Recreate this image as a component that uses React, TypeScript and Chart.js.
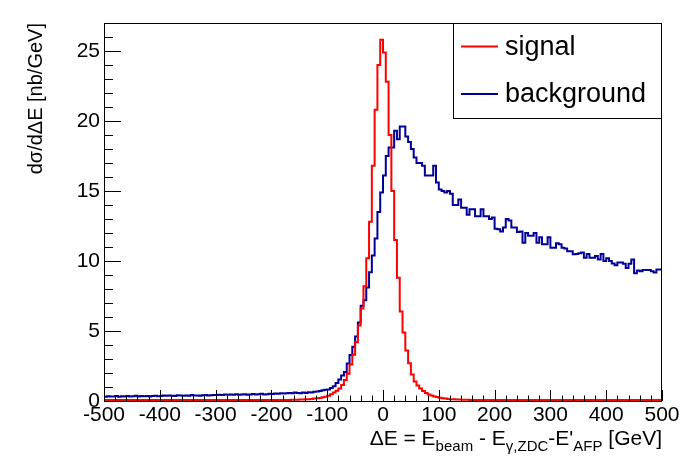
import { useEffect, useRef } from "react";
import { Chart, registerables } from "chart.js";

Chart.register(...registerables);

// histogram binning: 200 bins of 5 GeV from -500 to 500
const xLow = -500;
const binWidth = 5;

// signal, one value per bin (left to right), 10 bins per row
const signal = [
  0.07, 0.07, 0.07, 0.07, 0.07, 0.07, 0.07, 0.07, 0.07, 0.07,
  0.07, 0.07, 0.07, 0.07, 0.07, 0.07, 0.07, 0.07, 0.07, 0.07,
  0.07, 0.07, 0.07, 0.07, 0.07, 0.07, 0.07, 0.07, 0.07, 0.07,
  0.07, 0.07, 0.07, 0.07, 0.07, 0.07, 0.07, 0.07, 0.07, 0.07,
  0.07, 0.07, 0.07, 0.07, 0.07, 0.07, 0.07, 0.07, 0.07, 0.07,
  0.07, 0.07, 0.07, 0.07, 0.07, 0.07, 0.07, 0.07, 0.07, 0.08,
  0.08, 0.08, 0.08, 0.08, 0.08, 0.08, 0.08, 0.09, 0.09, 0.09,
  0.1, 0.11, 0.12, 0.13, 0.15, 0.17, 0.19, 0.22, 0.26, 0.31,
  0.38, 0.48, 0.6, 0.74, 0.9, 1.15, 1.5, 1.95, 2.6, 3.3,
  4.2, 5.4, 6.6, 8.2, 10.2, 12.8, 16.8, 20.8, 24.0, 25.8,
  24.9, 22.8, 19.0, 15.0, 11.5, 8.8, 6.4, 4.9, 3.6, 2.7,
  1.9, 1.4, 1.1, 0.9, 0.72, 0.58, 0.47, 0.39, 0.33, 0.28,
  0.24, 0.2, 0.17, 0.15, 0.13, 0.12, 0.11, 0.1, 0.09, 0.09,
  0.09, 0.08, 0.08, 0.08, 0.08, 0.08, 0.08, 0.08, 0.08, 0.08,
  0.08, 0.08, 0.08, 0.08, 0.08, 0.07, 0.07, 0.07, 0.07, 0.07,
  0.07, 0.07, 0.07, 0.07, 0.07, 0.07, 0.07, 0.07, 0.07, 0.07,
  0.07, 0.07, 0.07, 0.07, 0.07, 0.07, 0.07, 0.07, 0.07, 0.07,
  0.07, 0.07, 0.07, 0.07, 0.07, 0.07, 0.07, 0.07, 0.07, 0.07,
  0.07, 0.07, 0.07, 0.07, 0.07, 0.07, 0.07, 0.07, 0.07, 0.07,
  0.07, 0.07, 0.07, 0.07, 0.07, 0.07, 0.07, 0.07, 0.07, 0.07,
];

// background, same binning
const background = [
  0.31, 0.34, 0.32, 0.33, 0.36, 0.31, 0.34, 0.33, 0.35, 0.32,
  0.34, 0.37, 0.33, 0.35, 0.34, 0.36, 0.33, 0.35, 0.38, 0.34,
  0.36, 0.39, 0.37, 0.4, 0.38, 0.36, 0.41, 0.39, 0.38, 0.4,
  0.37, 0.42, 0.39, 0.4, 0.38, 0.41, 0.43, 0.39, 0.41, 0.42,
  0.43, 0.45, 0.42, 0.46, 0.44, 0.47, 0.45, 0.48, 0.44, 0.46,
  0.49, 0.45, 0.47, 0.5, 0.46, 0.48, 0.51, 0.47, 0.49, 0.52,
  0.5, 0.53, 0.51, 0.55, 0.53, 0.56, 0.58, 0.55, 0.6, 0.58,
  0.56, 0.6, 0.58, 0.63, 0.61, 0.66, 0.68, 0.72, 0.76, 0.8,
  0.83, 0.93, 1.05, 1.28, 1.53, 1.83, 2.08, 2.68, 3.28, 3.88,
  4.6, 5.6, 6.8, 7.2, 8.1, 9.2, 10.4, 11.6, 13.5, 14.9,
  16.1, 17.5, 18.1, 18.1, 19.3, 18.7, 19.6, 19.6, 18.9, 18.5,
  18.0, 17.4, 17.0, 17.0, 16.8, 16.1, 16.1, 16.1, 16.8, 15.6,
  15.1, 15.0, 14.9, 15.0, 14.8, 14.0, 14.0, 14.4, 13.8, 13.8,
  13.3, 13.7, 13.7, 13.2, 13.2, 13.7, 13.2, 13.2, 13.0, 13.1,
  12.3, 12.26, 12.1, 12.4, 13.0, 12.9, 12.4, 12.4, 12.07, 12.1,
  11.3, 12.0, 11.8, 11.8, 12.0, 11.3, 11.7, 11.2, 11.2, 11.7,
  10.95, 10.95, 11.26, 11.2, 10.95, 10.9, 10.7, 10.7, 10.48, 10.5,
  10.55, 10.6, 10.24, 10.5, 10.24, 10.24, 10.36, 10.1, 10.5, 10.0,
  10.2, 10.0, 9.83, 9.7, 9.9, 9.9, 9.8, 9.5, 9.8, 10.1,
  9.12, 9.33, 9.26, 9.35, 9.35, 9.35, 9.26, 9.17, 9.4, 9.4,
];

const xTicks = [-500, -400, -300, -200, -100, 0, 100, 200, 300, 400, 500];
const yTicks = [0, 5, 10, 15, 20, 25];
const legendLabels = ["signal", "background"];

const FONT = "'Liberation Sans', Arial, Helvetica, sans-serif";
const RED = "#ff0000";
const BLUE = "#000099";

// left bin edges + closing point, drawn with stepped lines
function toSteps(vals: number[]) {
  const pts = vals.map((v, i) => ({ x: xLow + i * binWidth, y: v }));
  pts.push({ x: xLow + vals.length * binWidth, y: vals[vals.length - 1] });
  return pts;
}

const rootStyle = {
  id: "rootStyle",
  afterDraw(chart: Chart) {
    const { ctx, chartArea } = chart;
    const { left, right, top, bottom } = chartArea;
    const xs = chart.scales.x;
    const ys = chart.scales.y;
    ctx.save();
    ctx.strokeStyle = "#000";
    ctx.lineWidth = 1;

    // frame
    ctx.strokeRect(left + 0.5, top + 0.5, right - left - 1, bottom - top);

    // inward ticks
    ctx.beginPath();
    for (let v = xs.min; v <= xs.max; v += 20) {
      const px = Math.round(xs.getPixelForValue(v)) + 0.5;
      const len = v % 100 === 0 ? 11 : 5.5;
      ctx.moveTo(px, bottom);
      ctx.lineTo(px, bottom - len);
    }
    for (let v = ys.min; v <= ys.max; v += 1) {
      const py = Math.round(ys.getPixelForValue(v)) + 0.5;
      const len = v % 5 === 0 ? 17 : 9;
      ctx.moveTo(left, py);
      ctx.lineTo(left + len, py);
    }
    ctx.stroke();

    // legend box
    const lw = 209;
    const lh = 95;
    const lx = right - lw;
    ctx.fillStyle = "#fff";
    ctx.fillRect(lx, top, lw, lh);
    ctx.strokeRect(lx + 0.5, top + 0.5, lw - 1, lh);
    ctx.font = `27px ${FONT}`;
    ctx.textBaseline = "middle";
    ctx.textAlign = "left";
    chart.data.datasets.forEach((ds, i) => {
      const ly = top + 23.5 + i * 47.5;
      ctx.strokeStyle = ds.borderColor as string;
      ctx.lineWidth = 2;
      ctx.beginPath();
      ctx.moveTo(lx + 8, ly);
      ctx.lineTo(lx + 45, ly);
      ctx.stroke();
      ctx.fillStyle = "#000";
      ctx.fillText(legendLabels[i], lx + 52, ly + 1);
    });

    // x title with subscripts, right aligned at frame edge
    const parts: [string, boolean][] = [
      ["\u0394E = E", false],
      ["beam", true],
      [" - E", false],
      ["\u03b3,ZDC", true],
      ["-E'", false],
      ["AFP", true],
      [" [GeV]", false],
    ];
    const big = `21px ${FONT}`;
    const small = `15px ${FONT}`;
    let total = 0;
    parts.forEach(([t, sub]) => {
      ctx.font = sub ? small : big;
      total += ctx.measureText(t).width;
    });
    let cx = right - total;
    const base = 445;
    ctx.fillStyle = "#000";
    ctx.textBaseline = "alphabetic";
    parts.forEach(([t, sub]) => {
      ctx.font = sub ? small : big;
      ctx.fillText(t, cx, sub ? base + 6 : base);
      cx += ctx.measureText(t).width;
    });

    // y title, rotated
    ctx.translate(42, top);
    ctx.rotate(-Math.PI / 2);
    ctx.font = `20px ${FONT}`;
    ctx.textAlign = "right";
    ctx.fillText("d\u03c3/d\u0394E [nb/GeV]", 0, 0);
    ctx.restore();
  },
};

export default function App() {
  const canvasRef = useRef<HTMLCanvasElement | null>(null);

  useEffect(() => {
    if (!canvasRef.current) return;
    Chart.defaults.font.family = FONT;
    Chart.defaults.color = "#000";

    const chart = new Chart(canvasRef.current, {
      type: "line",
      data: {
        datasets: [
          {
            label: legendLabels[0],
            data: toSteps(signal),
            borderColor: RED,
            borderWidth: 2,
            stepped: "before",
            pointRadius: 0,
            fill: false,
          },
          {
            label: legendLabels[1],
            data: toSteps(background),
            borderColor: BLUE,
            borderWidth: 2,
            stepped: "before",
            pointRadius: 0,
            fill: false,
          },
        ],
      },
      options: {
        animation: false,
        responsive: true,
        maintainAspectRatio: false,
        layout: { padding: { left: 0, top: 23, right: 34, bottom: 0 } },
        plugins: { legend: { display: false }, tooltip: { enabled: false } },
        scales: {
          x: {
            type: "linear",
            min: -500,
            max: 500,
            grid: { display: false, drawTicks: false },
            border: { display: false },
            ticks: { autoSkip: false, maxRotation: 0, padding: 2, font: { size: 21 } },
            afterBuildTicks: (axis) => {
              axis.ticks = xTicks.map((v) => ({ value: v }));
            },
            afterFit: (axis) => {
              axis.height = 71;
            },
          },
          y: {
            type: "linear",
            min: 0,
            max: 27,
            grid: { display: false, drawTicks: false },
            border: { display: false },
            ticks: { padding: 4, font: { size: 21 } },
            afterBuildTicks: (axis) => {
              axis.ticks = yTicks.map((v) => ({ value: v }));
            },
            afterFit: (axis) => {
              axis.width = 104;
            },
          },
        },
      },
      plugins: [rootStyle],
    });

    return () => {
      chart.destroy();
    };
  }, []);

  return (
    <div style={{ position: "absolute", left: 0, top: 0, width: 696, height: 472, background: "#fff" }}>
      <canvas ref={canvasRef}></canvas>
    </div>
  );
}
